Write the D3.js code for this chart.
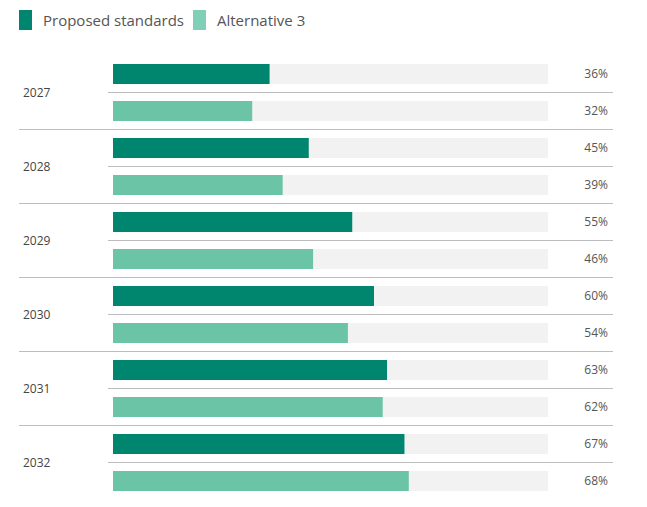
<!DOCTYPE html>
<html lang="en">
<head>
<meta charset="utf-8" />
<title>Proposed standards vs Alternative 3</title>
<script src="https://d3js.org/d3.v7.min.js"></script>
<style>
    body { margin: 0; background: #fff; }
    text { font-family: "Open Sans", sans-serif; }
    .legend text { font-size: 15px; fill: #555; }
    .year { font-size: 12px; fill: #444; }
    .val { font-size: 12px; fill: #555; text-anchor: end; }
    .sep { stroke: #bdbdbd; stroke-width: 1px; }
</style>
</head>
<body>
<div id="chart"></div>
<script>
    var years = ["2027", "2028", "2029", "2030", "2031", "2032"];
    var seriesNames = ["Proposed standards", "Alternative 3"];
    var proposed = [36, 45, 55, 60, 63, 67];
    var alternative = [32, 39, 46, 54, 62, 68];

    var width = 647, height = 507;
    var colors = ["#00856f", "#6bc4a6"];
    var legendColors = ["#00856f", "#80d0b7"];

    var svg = d3.select("#chart").append("svg")
        .attr("width", width)
        .attr("height", height);

    // legend
    var legend = svg.append("g").attr("class", "legend");
    var lx = [19, 193];
    seriesNames.forEach(function (name, i) {
        legend.append("rect")
            .attr("x", lx[i]).attr("y", 10)
            .attr("width", 13).attr("height", 20)
            .attr("fill", legendColors[i]);
        legend.append("text")
            .attr("x", lx[i] + 24).attr("y", 26)
            .text(name);
    });

    // rows: one band per year, two sub-bands per series
    var y = d3.scaleBand().domain(years).range([55.5, 499.5]);
    var sub = d3.scaleBand().domain([0, 1]).range([0, y.bandwidth()]);
    var x = d3.scaleLinear().domain([0, 100]).range([113, 548]);
    var barH = 20;

    var rows = years.map(function (yr, i) {
        return { year: yr, values: [proposed[i], alternative[i]] };
    });

    var g = svg.selectAll(".group")
        .data(rows)
        .enter().append("g")
        .attr("class", "group")
        .attr("transform", function (d) { return "translate(0," + y(d.year) + ")"; });

    g.append("text")
        .attr("class", "year")
        .attr("x", 23)
        .attr("y", y.bandwidth() / 2 + 4)
        .text(function (d) { return d.year; });

    // inner separator
    g.append("line")
        .attr("class", "sep")
        .attr("x1", 108).attr("x2", 613)
        .attr("y1", y.bandwidth() / 2).attr("y2", y.bandwidth() / 2);

    // group separator (not after last group)
    g.filter(function (d, i) { return i < years.length - 1; })
        .append("line")
        .attr("class", "sep")
        .attr("x1", 19).attr("x2", 613)
        .attr("y1", y.bandwidth()).attr("y2", y.bandwidth());

    var bar = g.selectAll(".bar")
        .data(function (d) { return d.values.map(function (v, j) { return { v: v, s: j }; }); })
        .enter().append("g")
        .attr("class", "bar")
        .attr("transform", function (d) {
            return "translate(0," + (sub(d.s) + (sub.bandwidth() - barH) / 2) + ")";
        });

    bar.append("rect")
        .attr("x", x(0)).attr("width", x(100) - x(0))
        .attr("height", barH)
        .attr("fill", "#f2f2f2");

    bar.append("rect")
        .attr("x", x(0))
        .attr("width", function (d) { return x(d.v) - x(0); })
        .attr("height", barH)
        .attr("fill", function (d) { return colors[d.s]; });

    bar.append("text")
        .attr("class", "val")
        .attr("x", 608)
        .attr("y", barH / 2 + 4)
        .text(function (d) { return d.v + "%"; });
</script>
</body>
</html>
